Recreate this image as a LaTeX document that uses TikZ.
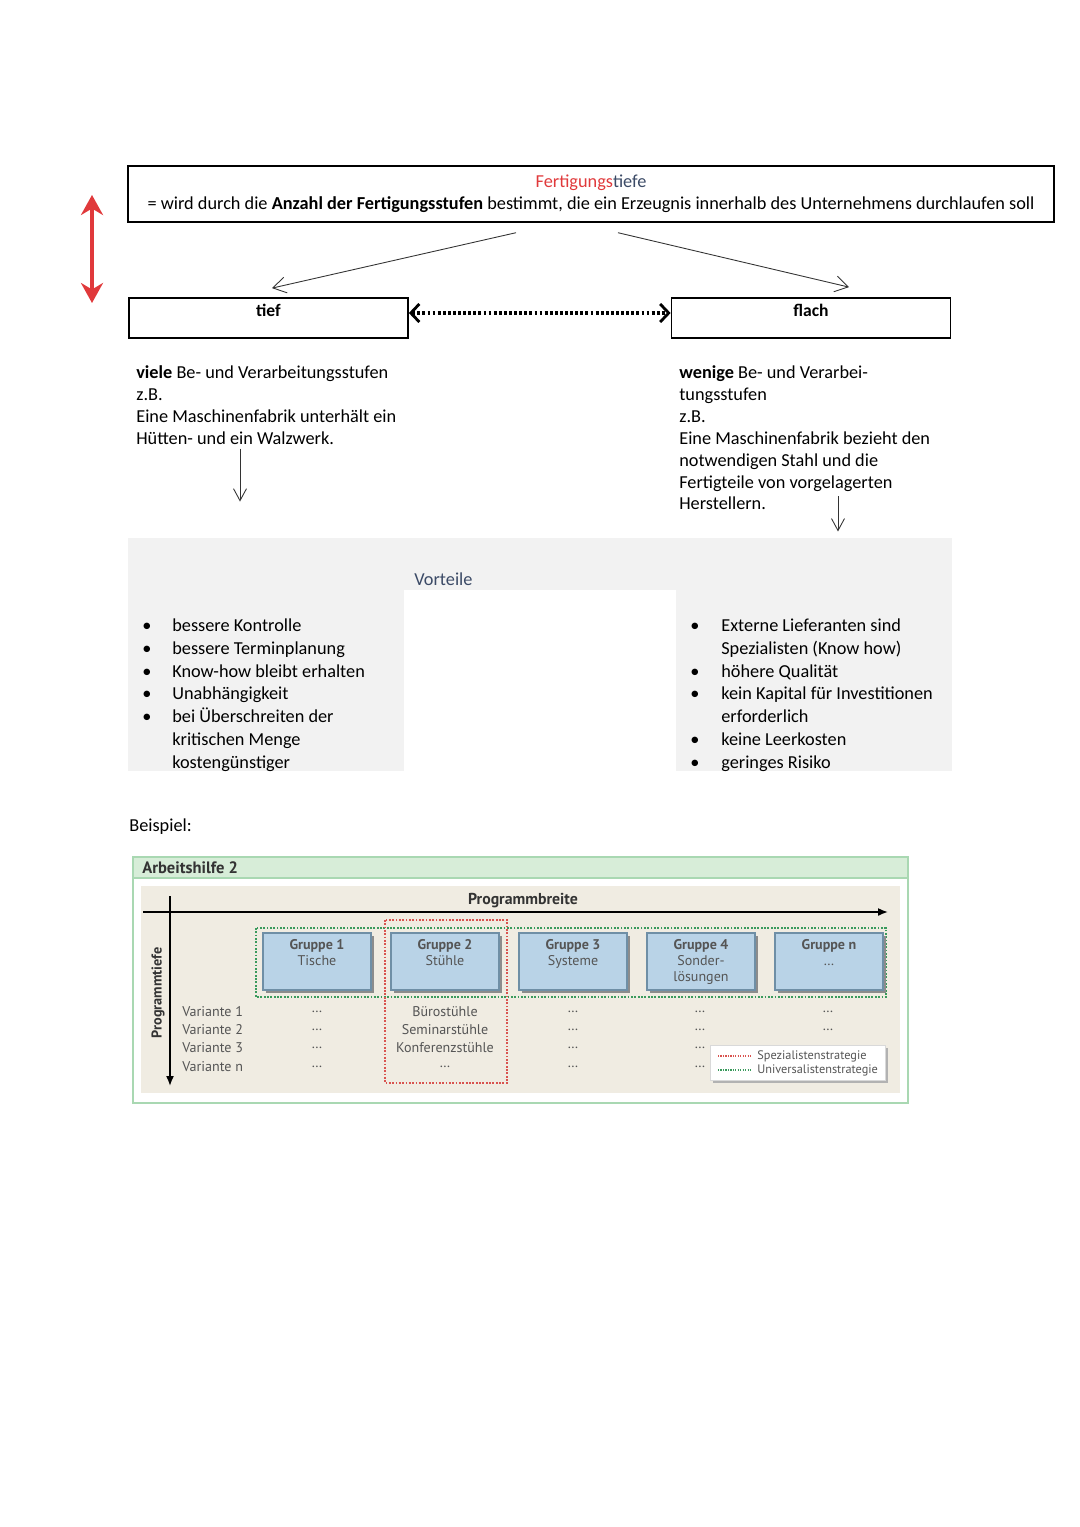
\documentclass[tikz,border=0pt]{standalone}
\usepackage{fontspec}
\setmainfont{Carlito}
\newfontfamily\figfont{PT Sans}
\usetikzlibrary{arrows.meta,positioning,calc,shadows}

\definecolor{fertred}{HTML}{E0393B}
\definecolor{navy}{HTML}{3B4A66}
\definecolor{panelgray}{HTML}{F2F2F2}
\definecolor{hdrgreen}{HTML}{D7EDD8}
\definecolor{edgegreen}{HTML}{A9D8B2}
\definecolor{beige}{HTML}{F0ECE2}
\definecolor{grpblue}{HTML}{B9D3E7}
\definecolor{grpedge}{HTML}{6F8FA6}
\definecolor{spezred}{HTML}{D9534F}
\definecolor{unigreen}{HTML}{3A9A5C}
\definecolor{figgray}{HTML}{555555}

\begin{document}
\begin{tikzpicture}[
  x=0.2mm, y=-0.2mm,
  font=\fontsize{10.4}{12.5}\selectfont,
  defbox/.style ={draw, line width=0.8pt, minimum width=185.2mm, minimum height=11.2mm,
                  align=center, inner sep=0pt},
  kindbox/.style={draw, line width=1pt, minimum width=55.8mm, minimum height=8mm, inner sep=0pt},
  kindlbl/.style={anchor=north, font=\bfseries, inner sep=0pt, yshift=-4pt},
  txt/.style    ={anchor=north west, align=left, inner sep=0pt},
  oarr/.style   ={-{Straight Barb[length=2.6mm, width=3.2mm]}, line width=0.5pt, black!80},
  varr/.style   ={-{Straight Barb[length=2.4mm, width=2.6mm]}, line width=0.5pt, black!80},
  darr/.style   ={{Straight Barb[length=1.7mm, width=3.6mm, line width=1.6pt]}-{Straight Barb[length=1.7mm, width=3.6mm, line width=1.6pt]},
                  line width=2.4pt, dash pattern=on 1.6pt off 1.3pt},
  figtxt/.style ={font=\figfont\fontsize{8}{9}\selectfont, text=figgray, inner sep=0pt},
  figbold/.style={figtxt, text=black!80, font=\figfont\bfseries\fontsize{9}{10}\selectfont},
  grpbox/.style ={draw=grpedge, fill=grpblue, line width=0.6pt, minimum width=21.6mm,
                  minimum height=11.4mm, inner sep=0pt,
                  drop shadow={shadow xshift=0.5mm, shadow yshift=-0.5mm, fill=black!45, opacity=1}},
  grplbl/.style ={figtxt, anchor=north, align=center, yshift=-1.4mm},
  axis/.style   ={-{Latex[length=2mm, width=1.6mm]}, line width=0.9pt},
  fdots/.style  ={line width=1pt, dash pattern=on 1pt off 0.9pt},
]
\useasboundingbox (0,0) rectangle (1080,1527);

% --- Definition
\coordinate (redtop) at (92,195);
\coordinate (redbot) at (92,303);
\draw[{Stealth[length=4mm, width=4.4mm]}-{Stealth[length=4mm, width=4.4mm]},
      fertred, line width=2.2pt] (redtop) -- (redbot);

\node[defbox] (def) at (591,194) {%
  {\color{fertred}Fertigungs}{\color{navy}tiefe}\\
  = wird durch die \textbf{Anzahl der Fertigungsstufen} bestimmt, die ein Erzeugnis innerhalb des Unternehmens durchlaufen soll};

\node[kindbox, label={[kindlbl]north:tief}]  (tief)  at (268.5,318) {};
\node[kindbox, label={[kindlbl]north:flach}] (flach) at (811,318) {};

\draw[oarr] ($(def.south)+(-75,10)$) -- ($(tief.north)+(3.5,-9)$);
\draw[oarr] ($(def.south)+(27,10)$)  -- ($(flach.north)+(38,-10)$);
\draw[darr] ([yshift=1mm]tief.east) -- ([yshift=1mm]flach.west);

% --- Beschreibung
\node[txt] (tieftxt) at (136,365) {%
  \textbf{viele} Be- und Verarbeitungsstufen\\
  z.B.\\
  Eine Maschinenfabrik unterhält ein\\
  Hütten- und ein Walzwerk.};
\node[txt] (flachtxt) at (679,365) {%
  \textbf{wenige} Be- und Verarbei-\\
  tungsstufen\\
  z.B.\\
  Eine Maschinenfabrik bezieht den\\
  notwendigen Stahl und die\\
  Fertigteile von vorgelagerten\\
  Herstellern.};

\draw[varr] ($(tieftxt.south west)+(104,4)$) -- ++(0,53);
\draw[varr] ($(flachtxt.south west)+(159,-14)$) -- ++(0,35);

% --- Vorteile
\fill[panelgray] (128,538) rectangle (952,771);
\fill[white] (404,590) rectangle (676,771);
\node[txt, anchor=west, text=navy] (vort) at (414,579) {Vorteile};

\node[txt, font=\fontsize{10.4}{13}\selectfont] (vortL) at (142,615) {%
  \begin{tabular}{@{}p{6mm}@{}l@{}}
  \textbullet & bessere Kontrolle\\
  \textbullet & bessere Terminplanung\\
  \textbullet & Know-how bleibt erhalten\\
  \textbullet & Unabhängigkeit\\
  \textbullet & bei Überschreiten der\\
              & kritischen Menge\\
              & kostengünstiger
  \end{tabular}};
\node[txt, font=\fontsize{10.4}{13}\selectfont] (vortR) at (690,615) {%
  \begin{tabular}{@{}p{6.2mm}@{}l@{}}
  \textbullet & Externe Lieferanten sind\\
              & Spezialisten (Know how)\\
  \textbullet & höhere Qualität\\
  \textbullet & kein Kapital für Investitionen\\
              & erforderlich\\
  \textbullet & keine Leerkosten\\
  \textbullet & geringes Risiko
  \end{tabular}};

\node[txt, anchor=west] (beisp) at (129,827) {Beispiel:};

% --- Arbeitshilfe 2
\draw[edgegreen, line width=0.8pt, fill=white] (133,857) rectangle (908,1103);
\draw[edgegreen, line width=0.8pt, fill=hdrgreen] (133,857) rectangle (908,878);
\node[figbold, anchor=west, font=\figfont\bfseries\fontsize{9.4}{10}\selectfont] (ah) at (142,868) {Arbeitshilfe 2};
\fill[beige] (141,886) rectangle (900,1093);

\coordinate (bx0) at (143,912);
\coordinate (bx1) at (888,912);
\coordinate (ty0) at (170,896);
\coordinate (ty1) at (170,1086);
\draw[axis] (bx0) -- (bx1);
\draw[axis] (ty0) -- (ty1);
\node[figbold] (pb) at (523,901) {Programmbreite};
\node[figbold, font=\figfont\bfseries\fontsize{8.1}{9}\selectfont, rotate=90] (pt) at (158,993) {Programmtiefe};

\draw[unigreen, fdots] (256,928) rectangle (886,997);

\foreach \n/\x/\s in {1/317/Tische, 2/445/Stühle, 3/573/Systeme, 4/701/{Sonder-\\lösungen}, n/829/{\ldots}}
  \node[grpbox, label={[grplbl]north:{\textbf{Gruppe \n}\\\s}}] (g\n) at (\x,961.5) {};

\draw[spezred, fdots] (385,920) rectangle (507,1083);

\foreach \r/\y in {1/1012, 2/1030, 3/1048, n/1067}
  \node[figtxt, anchor=west] (var\r) at (182,\y) {Variante \r};

\node[figtxt] (st1) at (445,1012) {Bürostühle};
\node[figtxt] (st2) at (445,1030) {Seminarstühle};
\node[figtxt] (st3) at (445,1048) {Konferenzstühle};
\node[figtxt] (st4) at (445,1067) {\ldots};

\foreach \r/\y in {1/1012, 2/1030, 3/1048, 4/1067} {
  \node[figtxt] (d1\r) at (317,\y) {\ldots};
  \node[figtxt] (d3\r) at (573,\y) {\ldots};
  \node[figtxt] (d4\r) at (700,\y) {\ldots};
}
\node[figtxt] (dn1) at (828,1012) {\ldots};
\node[figtxt] (dn2) at (828,1030) {\ldots};

\node[draw=black!15, fill=white, minimum width=35mm, minimum height=7mm, inner sep=0pt,
      drop shadow={shadow xshift=0.5mm, shadow yshift=-0.5mm, fill=black!30, opacity=1}] (leg) at (797.5,1062.5) {};
\coordinate (ls0) at (718,1056);
\coordinate (ls1) at (752,1056);
\coordinate (lu0) at (718,1070);
\coordinate (lu1) at (752,1070);
\draw[spezred, line width=0.7pt, dash pattern=on 0.7pt off 0.7pt] (ls0) -- (ls1);
\draw[unigreen, line width=0.7pt, dash pattern=on 0.7pt off 0.7pt] (lu0) -- (lu1);
\node[figtxt, anchor=west, font=\figfont\fontsize{7}{8}\selectfont] (lspez) at (757,1056) {Spezialistenstrategie};
\node[figtxt, anchor=west, font=\figfont\fontsize{7}{8}\selectfont] (luni) at (757,1070) {Universalistenstrategie};
\end{tikzpicture}
\end{document}
